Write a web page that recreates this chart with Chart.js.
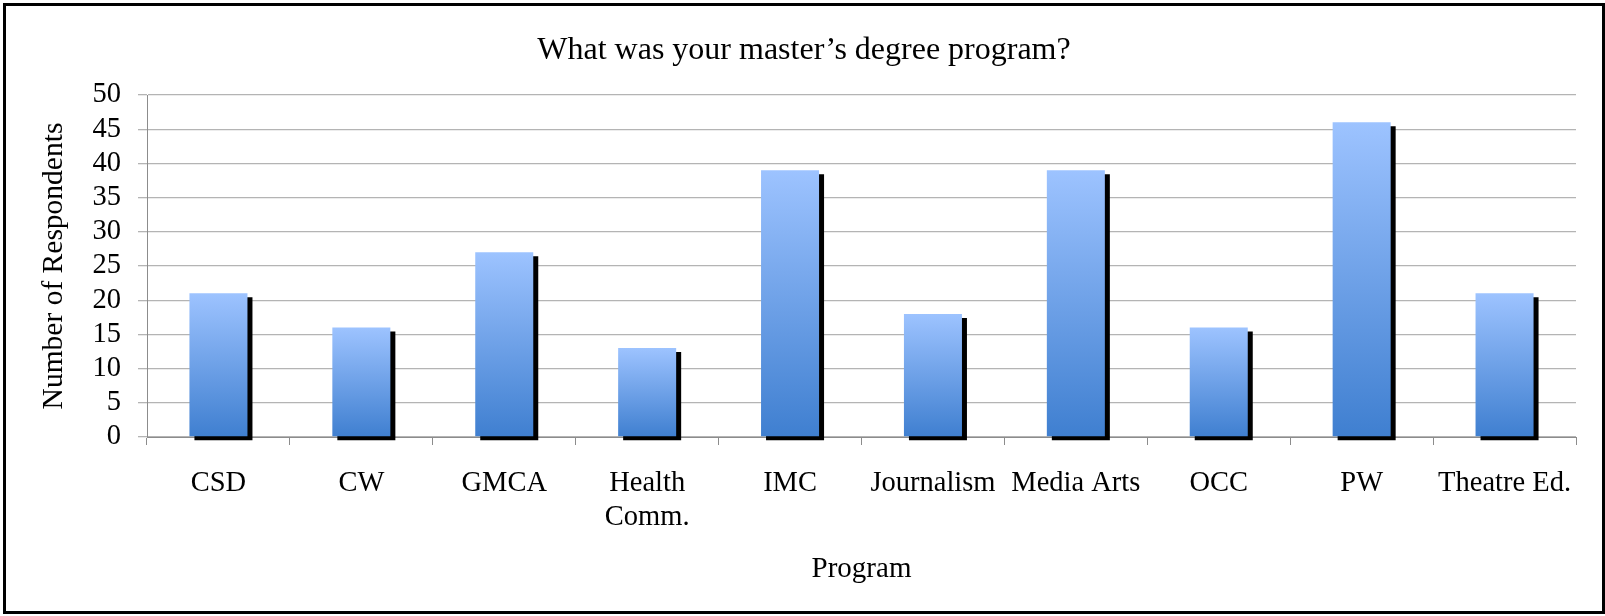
<!DOCTYPE html>
<html lang="en">

<head>
    <meta charset="UTF-8">
    <title>What was your master's degree program?</title>
    <script src="https://cdn.jsdelivr.net/npm/chart.js"></script>
    <style>
        html, body { margin: 0; padding: 0; background: #ffffff; }
        .grafico { position: relative; width: 1605px; height: 616px; }
    </style>
</head>

<body>
    <div class="grafico">
        <canvas id="myChart"></canvas>
    </div>

<script>
    // programas (eixo x)
    const programas = [
        'CSD',
        'CW',
        'GMCA',
        ['Health', 'Comm.'],
        'IMC',
        'Journalism',
        'Media Arts',
        'OCC',
        'PW',
        'Theatre Ed.',
    ];

    // numero de respondentes por programa
    const respondentes = [21, 16, 27, 13, 39, 18, 39, 16, 46, 21];

    // eixo y
    const eixoY = { min: 0, max: 50, passo: 5 };

    const fonte = 'Liberation Serif, Times New Roman, serif';

    // sombra preta das barras
    const sombra = {
        id: 'sombra',
        beforeDatasetDraw(chart) {
            const ctx = chart.ctx;
            ctx.save();
            ctx.shadowColor = '#000000';
            ctx.shadowOffsetX = 5;
            ctx.shadowOffsetY = 4;
            ctx.shadowBlur = 0;
        },
        afterDatasetDraw(chart) {
            chart.ctx.restore();
        }
    };

    // moldura em volta do grafico
    const moldura = {
        id: 'moldura',
        afterDraw(chart) {
            const ctx = chart.ctx;
            ctx.save();
            ctx.strokeStyle = '#000000';
            ctx.lineWidth = 3;
            ctx.strokeRect(4.5, 4.5, 1599, 608);
            ctx.restore();
        }
    };

    // gradiente de cada barra (claro em cima, escuro embaixo)
    function corBarra(c) {
        const chart = c.chart;
        const y = chart.scales.y;
        if (!y || c.type !== 'data') return '#6a9be6';
        const topo = y.getPixelForValue(c.raw);
        const base = y.getPixelForValue(0);
        if (!isFinite(topo) || !isFinite(base) || topo === base) return '#6a9be6';
        const g = chart.ctx.createLinearGradient(0, topo, 0, base);
        g.addColorStop(0, '#9dc3ff');
        g.addColorStop(1, '#3f7fd0');
        return g;
    }

    const data = {
        labels: programas,
        datasets: [{
            label: 'Number of Respondents',
            data: respondentes,
            backgroundColor: corBarra,
            borderWidth: 0,
            barPercentage: 0.406,
            categoryPercentage: 1,
            clip: false,
        }]
    };

    const config = {
        type: 'bar',
        data: data,
        options: {
            responsive: true,
            maintainAspectRatio: false,
            animation: false,
            events: [],
            layout: {
                padding: { left: 32, right: 29, top: 0, bottom: 0 }
            },
            plugins: {
                legend: { display: false },
                tooltip: { enabled: false },
                title: {
                    display: true,
                    text: 'What was your master\u2019s degree program?',
                    color: '#000000',
                    font: { family: fonte, size: 32, weight: 'normal', lineHeight: 1.2 },
                    padding: { top: 31, bottom: 25.6 }
                }
            },
            scales: {
                x: {
                    grid: {
                        offset: true,
                        drawOnChartArea: false,
                        tickLength: 8,
                        color: '#8c8c8c'
                    },
                    border: { color: '#8c8c8c', width: 1 },
                    ticks: {
                        color: '#000000',
                        font: { family: fonte, size: 28.5, lineHeight: 1.17 },
                        padding: 22,
                        maxRotation: 0,
                        autoSkip: false
                    },
                    title: {
                        display: true,
                        text: 'Program',
                        color: '#000000',
                        font: { family: fonte, size: 29, lineHeight: 1.2 },
                        padding: { top: 0, bottom: 29 }
                    },
                    afterFit(s) { s.height = 179; }
                },
                y: {
                    min: eixoY.min,
                    max: eixoY.max,
                    grid: {
                        color: '#b4b4b4',
                        lineWidth: 1.3,
                        tickLength: 9
                    },
                    border: { color: '#8c8c8c', width: 1 },
                    ticks: {
                        stepSize: eixoY.passo,
                        autoSkip: false,
                        color: '#000000',
                        font: { family: fonte, size: 28.5 },
                        padding: 17
                    },
                    title: {
                        display: true,
                        text: 'Number of Respondents',
                        color: '#000000',
                        font: { family: fonte, size: 29.5, lineHeight: 1.2 },
                        padding: { top: 5, bottom: 0 }
                    },
                    afterFit(s) { s.width = 115; }
                }
            }
        },
        plugins: [sombra, moldura]
    };

    const myChart = new Chart(
        document.getElementById('myChart'),
        config
    );
</script>
</body>

</html>
